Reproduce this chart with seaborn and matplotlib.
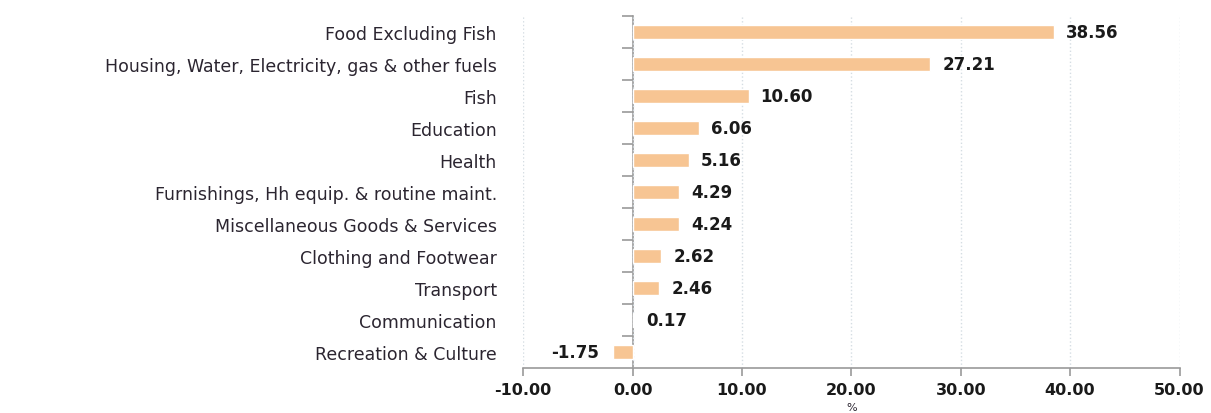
import matplotlib
matplotlib.use("Agg")
import matplotlib.pyplot as plt
import seaborn as sns
import pandas as pd
import numpy as np

categories = [
    "Food Excluding Fish",
    "Housing, Water, Electricity, gas & other fuels",
    "Fish",
    "Education",
    "Health",
    "Furnishings, Hh equip. & routine maint.",
    "Miscellaneous Goods & Services",
    "Clothing and Footwear",
    "Transport",
    "Communication",
    "Recreation & Culture",
]
values = [38.56, 27.21, 10.60, 6.06, 5.16, 4.29, 4.24, 2.62, 2.46, 0.17, -1.75]
x_ticks = [-10, 0, 10, 20, 30, 40, 50]

BAR = "#F7C593"
AXIS = "#9a9a9a"
TEXT = "#2b2530"

sns.set_style("white")
plt.rcParams["font.family"] = ["DejaVu Sans"]

df = pd.DataFrame({"category": categories, "value": values})

fig = plt.figure(figsize=(12.11, 4.14), dpi=100)
ax = fig.add_axes([0.432, 0.109, 0.542, 0.850])

sns.barplot(data=df, x="value", y="category", color=BAR, width=0.42,
            saturation=1, ax=ax)

ax.set_xlim(x_ticks[0], x_ticks[-1])
ax.set_ylim(len(categories) - 0.5, -0.5)
ax.set_xticks(x_ticks)
ax.set_xticklabels([f"{t:.2f}" for t in x_ticks], fontweight="bold",
                   fontsize=11.5, color="#1a1a1a")
ax.tick_params(axis="x", bottom=True, direction="out", length=6, width=1.2,
               color=AXIS, pad=4)
ax.tick_params(axis="y", length=0, pad=19, labelsize=12.5, labelcolor=TEXT)
ax.set_xlabel("")
ax.set_ylabel("")

# "%" unit label sits under the axis, at the very bottom edge
fig.text(0.432 + 0.542 / 2, 0.002, "%", ha="center", va="bottom",
         fontsize=8, color=TEXT)

for s in ["top", "right", "left"]:
    ax.spines[s].set_visible(False)
ax.spines["bottom"].set_color(AXIS)
ax.spines["bottom"].set_linewidth(1.2)

ax.grid(axis="x", linestyle=":", color="#d5dde3", linewidth=1)
ax.set_axisbelow(True)

# vertical axis through zero with ticks between categories
zero_pos = (0 - x_ticks[0]) / (x_ticks[-1] - x_ticks[0])
sec = ax.secondary_yaxis(zero_pos)
sec.set_yticks(np.arange(-0.5, len(categories) - 0.5, 1.0))
sec.set_yticklabels([])
sec.tick_params(axis="y", direction="out", length=8, width=1.2, color=AXIS)
sec.spines["left"].set_color(AXIS)
sec.spines["left"].set_linewidth(1.2)

for i, v in enumerate(values):
    if v >= 0:
        ax.annotate(f"{v:.2f}", (v, i), xytext=(12, 0), textcoords="offset pixels",
                    ha="left", va="center", fontsize=12, fontweight="bold",
                    color="#1a1a1a")
    else:
        ax.annotate(f"{v:.2f}", (v, i), xytext=(-14, 0), textcoords="offset pixels",
                    ha="right", va="center", fontsize=12, fontweight="bold",
                    color="#1a1a1a")

fig.savefig("out.png", dpi=100)
